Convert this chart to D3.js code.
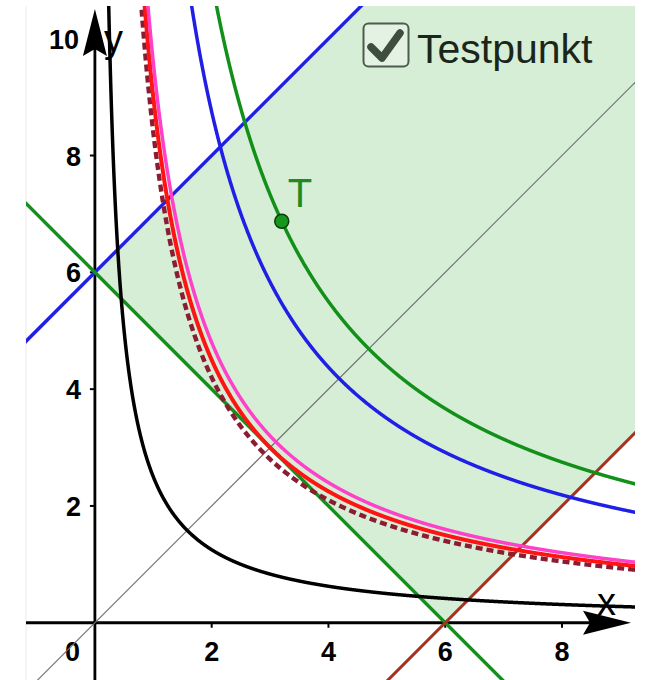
<!DOCTYPE html>
<html>
<head>
<meta charset="utf-8">
<script src="https://cdn.jsdelivr.net/npm/d3@7"></script>
<style>
  body { margin: 0; background: #fff; }
  svg { display: block; }
  text { font-family: "Liberation Sans", Arial, sans-serif; }
</style>
</head>
<body>
<svg id="chart" width="647" height="680"></svg>
<script>
// Hyperbolas y = k / x (k)
const curveNames = ["black", "dashed", "red", "pink", "blue", "green"];
const curveK = [2.5, 8.4, 9.0, 9.6, 17.5, 22];

// Straight lines y = m * x + b
const lineNames = ["diagonal", "blueLine", "greenLine", "brownLine"];
const lineSlopes = [1, 1, -1, 1];
const lineIntercepts = [0, 6, 6, -6];

// Tick labels
const xTicks = [2, 4, 6, 8];
const yTicks = [2, 4, 6, 8, 10];

// Test point on the green curve
const pointT = { x: 3.2, y: 6.875, label: "T" };
const checkboxLabel = "Testpunkt";

// Styles
const curveStyle = {
  black:  { color: "#000000", width: 3.5 },
  dashed: { color: "#8c1c32", width: 4.4, dash: "7,4" },
  red:    { color: "#ff1414", width: 4 },
  pink:   { color: "#ff40c8", width: 3.5 },
  blue:   { color: "#1f1fe6", width: 3.5 },
  green:  { color: "#12901a", width: 3.5 }
};
const lineStyle = {
  diagonal:  { color: "#6e6e6e", width: 1.1 },
  blueLine:  { color: "#1f1fe6", width: 3.4 },
  greenLine: { color: "#12901a", width: 3.4 },
  brownLine: { color: "#a33220", width: 3 }
};

// Plot area (GeoGebra graphics view)
const viewLeft = 26, viewRight = 635, viewTop = 6, viewBottom = 680;
const x = d3.scaleLinear().domain([-1.18, 9.25]).range([viewLeft, viewRight]);
const y = d3.scaleLinear().domain([-0.98, 10.56]).range([viewBottom, viewTop]);
const [xMin, xMax] = x.domain();
const [yMin, yMax] = y.domain();

const svg = d3.select("#chart");

svg.append("clipPath").attr("id", "clip")
  .append("rect")
  .attr("x", viewLeft).attr("y", viewTop)
  .attr("width", viewRight - viewLeft).attr("height", viewBottom - viewTop);

const g = svg.append("g").attr("clip-path", "url(#clip)");

// faint border of the view
svg.append("line")
  .attr("x1", viewLeft).attr("x2", viewLeft).attr("y1", viewTop).attr("y2", viewBottom)
  .attr("stroke", "#ececec").attr("stroke-width", 1);

// Shaded region: above green line, below blue line, above brown line
const bB = lineIntercepts[1], bR = lineIntercepts[3];
const region = [
  [0, bB],                 // blue meets green
  [-bR, 0],                // green meets brown
  [xMax + 1, xMax + 1 + bR],
  [xMax + 1, yMax + 1],
  [yMax + 1 - bB, yMax + 1]
];
g.append("polygon")
  .attr("points", region.map(p => [x(p[0]), y(p[1])].join(",")).join(" "))
  .attr("fill", "#d6eed6");

const lineFn = d3.line().x(d => x(d[0])).y(d => y(d[1]));

// Axes
const ax = svg.append("g");
const ox = x(0), oy = y(0);
ax.append("line")
  .attr("x1", viewLeft).attr("x2", 600)
  .attr("y1", oy).attr("y2", oy)
  .attr("stroke", "#000").attr("stroke-width", 2.8);
ax.append("line")
  .attr("x1", ox).attr("x2", ox)
  .attr("y1", viewBottom).attr("y2", 40)
  .attr("stroke", "#000").attr("stroke-width", 2.8);
// arrow heads
ax.append("path")
  .attr("d", `M631,${oy} L583,${oy - 12} L590,${oy} L583,${oy + 12} Z`)
  .attr("fill", "#000");
ax.append("path")
  .attr("d", `M${ox},9 L${ox - 12},56 L${ox},49 L${ox + 12},56 Z`)
  .attr("fill", "#000");

// ticks
ax.selectAll(".xt").data(xTicks).enter().append("line")
  .attr("x1", d => x(d)).attr("x2", d => x(d))
  .attr("y1", oy).attr("y2", oy + 5)
  .attr("stroke", "#000").attr("stroke-width", 2);
ax.selectAll(".yt").data(yTicks.filter(d => d < 10)).enter().append("line")
  .attr("x1", ox - 5).attr("x2", ox)
  .attr("y1", d => y(d)).attr("y2", d => y(d))
  .attr("stroke", "#000").attr("stroke-width", 2);

// tick labels
const tickFont = 27;
ax.selectAll(".xl").data(xTicks).enter().append("text")
  .attr("x", d => x(d)).attr("y", 661)
  .attr("text-anchor", "middle")
  .attr("font-size", tickFont).attr("font-weight", "bold")
  .text(d => d);
ax.append("text")
  .attr("x", 80).attr("y", 661)
  .attr("text-anchor", "end")
  .attr("font-size", tickFont).attr("font-weight", "bold")
  .text("0");
ax.selectAll(".yl").data(yTicks).enter().append("text")
  .attr("x", d => d === 10 ? 79 : 81)
  .attr("y", d => y(d) + 10)
  .attr("text-anchor", "end")
  .attr("font-size", tickFont).attr("font-weight", "bold")
  .text(d => d);

// lines (thin diagonal runs over the "0" label)
const g2 = svg.append("g").attr("clip-path", "url(#clip)");
lineNames.forEach((name, i) => {
  const m = lineSlopes[i], b = lineIntercepts[i];
  const s = lineStyle[name];
  const x0 = xMin - 1, x1 = xMax + 1;
  g2.append("path")
    .datum([[x0, m * x0 + b], [x1, m * x1 + b]])
    .attr("d", lineFn)
    .attr("fill", "none")
    .attr("stroke", s.color)
    .attr("stroke-width", s.width);
});

// Hyperbolas
curveNames.forEach((name, i) => {
  const k = curveK[i];
  const s = curveStyle[name];
  const xs = d3.range(k / (yMax + 0.5), xMax + 0.2, 0.005);
  g2.append("path")
    .datum(xs.map(v => [v, k / v]))
    .attr("d", lineFn)
    .attr("fill", "none")
    .attr("stroke", s.color)
    .attr("stroke-width", s.width)
    .attr("stroke-dasharray", s.dash || null);
});

// axis labels
svg.append("text").attr("x", 597).attr("y", 615)
  .attr("font-size", 38).text("x");
svg.append("text").attr("x", 104).attr("y", 52)
  .attr("font-size", 38).text("y");

// Point T
svg.append("circle")
  .attr("cx", x(pointT.x)).attr("cy", y(pointT.y)).attr("r", 7)
  .attr("fill", "#16961c").attr("stroke", "#0b3a0b").attr("stroke-width", 1.5);
svg.append("text")
  .attr("x", x(pointT.x) + 6).attr("y", y(pointT.y) - 14)
  .attr("font-size", 40).attr("fill", "#1e8a22")
  .text(pointT.label);

// Checkbox
const cb = svg.append("g");
cb.append("rect")
  .attr("x", 363.5).attr("y", 23.5).attr("width", 45).attr("height", 43).attr("rx", 5)
  .attr("fill", "#e3f2e3").attr("stroke", "#4d5d4d").attr("stroke-width", 2);
cb.append("path")
  .attr("d", "M371,47 L382,58 L400,33")
  .attr("fill", "none").attr("stroke", "#3d4e3d")
  .attr("stroke-width", 7.5).attr("stroke-linecap", "round").attr("stroke-linejoin", "round");
cb.append("text")
  .attr("x", 417).attr("y", 63)
  .attr("font-size", 41).attr("fill", "#1a261a")
  .text(checkboxLabel);
</script>
</body>
</html>
